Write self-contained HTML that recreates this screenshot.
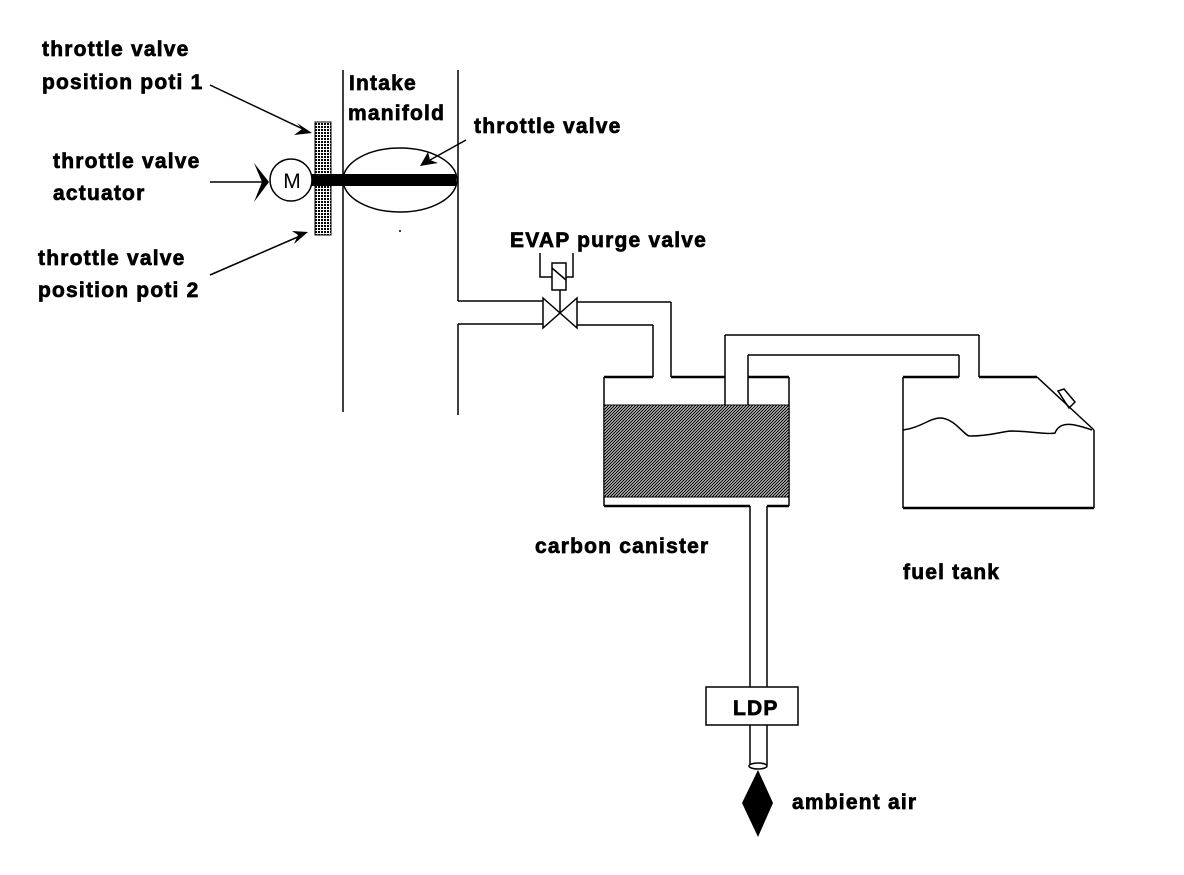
<!DOCTYPE html>
<html><head><meta charset="utf-8"><style>
html,body{margin:0;padding:0;background:#fff}
svg text{font-family:"Liberation Sans",sans-serif;font-weight:bold;font-size:21px;fill:#000;stroke:#000;stroke-width:0.7;letter-spacing:1.2px}
</style></head><body>
<svg width="1184" height="870" viewBox="0 0 1184 870" xmlns="http://www.w3.org/2000/svg">
<defs>
<pattern id="hatch" width="3" height="3" patternUnits="userSpaceOnUse">
<rect width="3" height="3" fill="#fff"/>
<path d="M0 3L3 0M-1 1L1 -1M2 4L4 2" stroke="#000" stroke-width="1.3"/>
</pattern>
<pattern id="grid" width="3" height="3" patternUnits="userSpaceOnUse">
<rect width="3" height="3" fill="#fff"/>
<rect width="2" height="2" fill="#000"/>
</pattern>
</defs>
<g fill="none" stroke="#000" stroke-width="1.5">
<line x1="343" y1="70" x2="343" y2="412"/>
<line x1="458" y1="70" x2="458" y2="301"/>
<line x1="458" y1="324" x2="458" y2="415"/>
<line x1="458" y1="301" x2="543" y2="301"/>
<line x1="458" y1="324" x2="543" y2="324"/>
<polygon points="543,298 577,328 577,298 543,328"/>
<line x1="560" y1="290" x2="560" y2="313"/>
<rect x="552" y="263" width="14" height="27"/>
<line x1="552" y1="268" x2="566" y2="280"/>
<polyline points="540,253 540,277 552,277"/>
<polyline points="573,253 573,277 566,277"/>
<line x1="577" y1="302" x2="671" y2="302"/>
<line x1="671" y1="302" x2="671" y2="377"/>
<line x1="577" y1="325" x2="653" y2="325"/>
<line x1="653" y1="325" x2="653" y2="377"/>
<line x1="604" y1="377" x2="604" y2="506"/>
<line x1="789" y1="377" x2="789" y2="506"/>
<g stroke-width="2.5">
<line x1="604" y1="377" x2="653" y2="377"/>
<line x1="671" y1="377" x2="725" y2="377"/>
<line x1="748" y1="377" x2="789" y2="377"/>
<line x1="604" y1="506" x2="750" y2="506"/>
<line x1="767" y1="506" x2="789" y2="506"/>
</g>
<line x1="725" y1="335" x2="725" y2="405"/>
<line x1="748" y1="355" x2="748" y2="405"/>
<line x1="725" y1="335" x2="979" y2="335"/>
<line x1="748" y1="355" x2="959" y2="355"/>
<line x1="979" y1="335" x2="979" y2="377"/>
<line x1="959" y1="355" x2="959" y2="377"/>
<line x1="903" y1="377" x2="903" y2="508"/>
<line x1="1094" y1="430" x2="1094" y2="508"/>
<g stroke-width="2.5">
<line x1="903" y1="377" x2="959" y2="377"/>
<line x1="979" y1="377" x2="1037" y2="377"/>
<line x1="903" y1="508" x2="1094" y2="508"/>
</g>
<line x1="1037" y1="377" x2="1094" y2="430"/>
<polygon points="1058,391 1064,389 1075,402 1069,408"/>
<path d="M903 430 C920 428 930 418 940 418 C955 418 965 437 970 436 C990 436 1000 432 1010 431 C1030 431 1050 435 1055 433 C1060 420 1075 424 1092 430"/>
<line x1="750" y1="506" x2="750" y2="687"/>
<line x1="767" y1="506" x2="767" y2="687"/>
<rect x="706" y="687" width="92" height="38"/>
<line x1="750" y1="725" x2="750" y2="765"/>
<line x1="767" y1="725" x2="767" y2="765"/>
<ellipse cx="758" cy="766" rx="9" ry="3"/>
<ellipse cx="400" cy="180" rx="57" ry="32"/>
<circle cx="291" cy="180" r="21"/>
<line x1="210" y1="182" x2="262" y2="182"/>
<line x1="210" y1="85" x2="305" y2="130"/>
<line x1="210" y1="275" x2="300" y2="236"/>
<line x1="466" y1="140" x2="430" y2="160"/>
</g>
<rect x="604" y="405" width="185" height="92" fill="url(#hatch)" stroke="#000"/>
<rect x="315" y="122" width="16" height="113" fill="url(#grid)" stroke="#000"/>
<rect x="312" y="174" width="144" height="12" fill="#000"/>
<polygon points="742,803 758,770 773,803 758,837" fill="#000"/>
<polygon points="254,163 269,182 254,202 262,182" fill="#000"/>
<polygon points="312,133 297,123 302,129 294,135" fill="#000"/>
<polygon points="308,232 292,231 298,235 294,244" fill="#000"/>
<polygon points="420,166 428,152 430,160 438,163" fill="#000"/>
<text x="349" y="90" font-size="19">Intake</text>
<text x="292" y="188" style="font-weight:normal;stroke-width:0;letter-spacing:0" text-anchor="middle">M</text>
<text x="42" y="56">throttle valve</text>
<text x="42" y="89">position poti 1</text>
<text x="53" y="168">throttle valve</text>
<text x="53" y="200">actuator</text>
<text x="38" y="265">throttle valve</text>
<text x="38" y="297">position poti 2</text>
<text x="348" y="120">manifold</text>
<text x="474" y="133">throttle valve</text>
<text x="510" y="247">EVAP purge valve</text>
<text x="535" y="553">carbon canister</text>
<text x="903" y="579">fuel tank</text>
<text x="733" y="715">LDP</text>
<text x="792" y="809">ambient air</text>
<circle cx="400" cy="231" r="1" fill="#000"/>
</svg>
</body></html>
